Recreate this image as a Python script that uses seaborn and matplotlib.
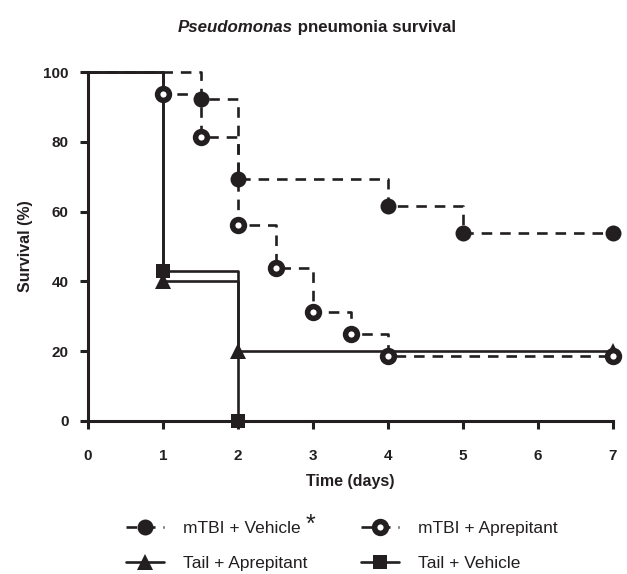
import numpy as np
import pandas as pd
import matplotlib
matplotlib.use('Agg')
import matplotlib.pyplot as plt
from matplotlib.lines import Line2D
import seaborn as sns

# Survival data (step points, first point is the start of each curve)
veh_days = [0, 1.5, 2, 4, 5, 7]
veh_surv = [100, 92.3, 69.2, 61.5, 53.8, 53.8]

apr_days = [0, 1, 1.5, 2, 2.5, 3, 3.5, 4, 7]
apr_surv = [100, 93.75, 81.25, 56.25, 43.75, 31.25, 25, 18.75, 18.75]

tail_apr_days = [0, 1, 2, 7]
tail_apr_surv = [100, 40, 20, 20]

tail_veh_days = [0, 1, 2]
tail_veh_surv = [100, 42.86, 0]

labels = ['mTBI + Vehicle', 'mTBI + Aprepitant', 'Tail + Aprepitant', 'Tail + Vehicle']
x_ticks = [0, 1, 2, 3, 4, 5, 6, 7]
y_ticks = [0, 20, 40, 60, 80, 100]

INK = '#231f20'

sns.set_style('ticks')
plt.rcParams['font.family'] = ['Liberation Sans', 'DejaVu Sans']

fig = plt.figure(figsize=(6.27, 5.74), dpi=100)
ax = fig.add_axes([88 / 627, 1 - 421 / 574, 525 / 627, 349 / 574])

series = [
    (tail_veh_days, tail_veh_surv, '-', dict(marker='s', ms=10.5, mfc=INK, mew=0)),
    (tail_apr_days, tail_apr_surv, '-', dict(marker='^', ms=11, mfc=INK, mew=0)),
    (apr_days, apr_surv, '--', dict(marker='o', ms=8.5, mfc='white', mec=INK, mew=4.0)),
    (veh_days, veh_surv, '--', dict(marker='o', ms=11.5, mfc=INK, mew=0)),
]

for days, surv, ls, mk in series:
    df = pd.DataFrame({'day': days, 'surv': surv})
    sns.lineplot(data=df, x='day', y='surv', ax=ax, estimator=None, sort=False,
                 drawstyle='steps-post', color=INK, linewidth=1.9,
                 linestyle=ls, markevery=list(range(1, len(days))),
                 clip_on=False, **mk)
    if ls == '--':
        ax.lines[-1].set_dashes([4, 3])

ax.set_xlim(0, 7)
ax.set_ylim(0, 100)
ax.set_xticks(x_ticks)
ax.set_yticks(y_ticks)
ax.set_xticklabels([str(t) for t in x_ticks], fontweight='bold', fontsize=11)
ax.set_yticklabels([str(t) for t in y_ticks], fontweight='bold', fontsize=11)
ax.tick_params(axis='both', length=6, width=2.2, color=INK, labelcolor=INK)
ax.tick_params(axis='x', pad=14)
ax.tick_params(axis='y', pad=8)
sns.despine(ax=ax)
for side in ['left', 'bottom']:
    ax.spines[side].set_linewidth(2.2)
    ax.spines[side].set_color(INK)

ax.set_xlabel('Time (days)', fontweight='bold', fontsize=11.5, color=INK, labelpad=8)
ax.set_ylabel('Survival (%)', fontweight='bold', fontsize=11.5, color=INK, labelpad=7)

# Title: italic genus name + bold rest
t1 = fig.text(178 / 627, 1 - 32 / 574, 'Pseudomonas', fontsize=12.2, fontweight='bold',
              fontstyle='italic', color=INK, va='baseline', ha='left')
fig.canvas.draw()
bb = t1.get_window_extent()
fig.text(bb.x1 / fig.bbox.width, 1 - 32 / 574, ' pneumonia survival', fontsize=12.2,
         fontweight='bold', color=INK, va='baseline', ha='left')

# Legend
handles = [
    Line2D([], [], color=INK, lw=1.9, dashes=[4, 3], marker='o', ms=11.5, mfc=INK, mew=0),
    Line2D([], [], color=INK, lw=1.9, dashes=[4, 3], marker='o', ms=8.5, mfc='white', mec=INK, mew=4.0),
    Line2D([], [], color=INK, lw=1.9, ls='-', marker='^', ms=11, mfc=INK, mew=0),
    Line2D([], [], color=INK, lw=1.9, ls='-', marker='s', ms=10.5, mfc=INK, mew=0),
]
order = [0, 2, 1, 3]
leg = fig.legend([handles[i] for i in order], [labels[i] for i in order],
                 loc='upper left', bbox_to_anchor=(126 / 627, 1 - 521 / 574),
                 ncol=2, frameon=False, fontsize=12.5, handlelength=2.2,
                 handletextpad=1.1, columnspacing=3.05, labelspacing=1.15,
                 borderpad=0, borderaxespad=0)
for txt in leg.get_texts():
    txt.set_color(INK)

fig.text(310 / 627, 1 - 532 / 574, '*', fontsize=18, color=INK, ha='center', va='baseline')

fig.savefig('out.png', dpi=100)
